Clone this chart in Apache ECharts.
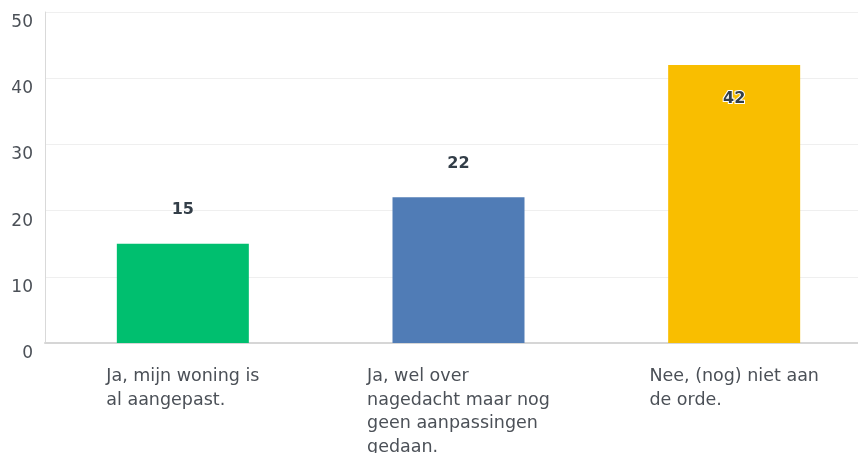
<!DOCTYPE html>
<html>
<head>
<meta charset="utf-8">
<script src="https://cdn.jsdelivr.net/npm/echarts@6/dist/echarts.min.js"></script>
<style>
  html, body { margin: 0; padding: 0; background: #fff; }
  #main { width: 858px; height: 453px; }
</style>
</head>
<body>
<div id="main"></div>
<script>
// antwoorden (regels zoals in het origineel afgebroken)
var categories = [
  'Ja, mijn woning is\nal aangepast.',
  'Ja, wel over\nnagedacht maar nog\ngeen aanpassingen\ngedaan.',
  'Nee, (nog) niet aan\nde orde.'
];
var values = [15, 22, 42];
var colors = ['#00bf6f', '#507cb6', '#f9be00'];
var yTicks = [0, 10, 20, 30, 40, 50];

var chart = echarts.init(document.getElementById('main'));

var data = values.map(function (v, i) {
  var inside = i === 2;
  return {
    value: v,
    itemStyle: { color: colors[i] },
    label: {
      position: inside ? 'insideTop' : 'top',
      distance: inside ? 26 : 26,
      textBorderColor: inside ? '#fff' : 'transparent',
      textBorderWidth: inside ? 2 : 0
    }
  };
});

chart.setOption({
  animation: false,
  grid: { left: 45, top: 12, right: -14, bottom: 110, outerBoundsMode: 'none', containLabel: false },
  xAxis: {
    type: 'category',
    data: categories,
    axisTick: { show: false },
    axisLine: { lineStyle: { color: '#d6d6d6', width: 2 } },
    axisLabel: {
      interval: 0,
      margin: 22,
      formatter: function (v) {
        return v.split('\n').map(function (s) { return '{t|' + s + '}'; }).join('\n');
      },
      rich: {
        t: {
          align: 'left',
          fontSize: 17.5,
          lineHeight: 23.5,
          color: '#4b5057',
          fontFamily: 'DejaVu Sans'
        }
      }
    }
  },
  yAxis: {
    type: 'value',
    min: yTicks[0],
    max: yTicks[yTicks.length - 1],
    interval: 10,
    axisLine: { show: true, lineStyle: { color: '#d9d9d9', width: 1 } },
    axisTick: { show: false },
    splitLine: { lineStyle: { color: '#efefef', width: 1 } },
    axisLabel: {
      margin: 12,
      fontSize: 17,
      color: '#4b5057',
      fontFamily: 'DejaVu Sans',
      verticalAlign: 'top',
      padding: [2, 0, 0, 0]
    }
  },
  series: [{
    type: 'bar',
    data: data,
    barWidth: 132,
    label: {
      show: true,
      fontSize: 16,
      fontWeight: 'bold',
      color: '#333e48',
      fontFamily: 'DejaVu Sans'
    }
  }]
});
</script>
</body>
</html>
